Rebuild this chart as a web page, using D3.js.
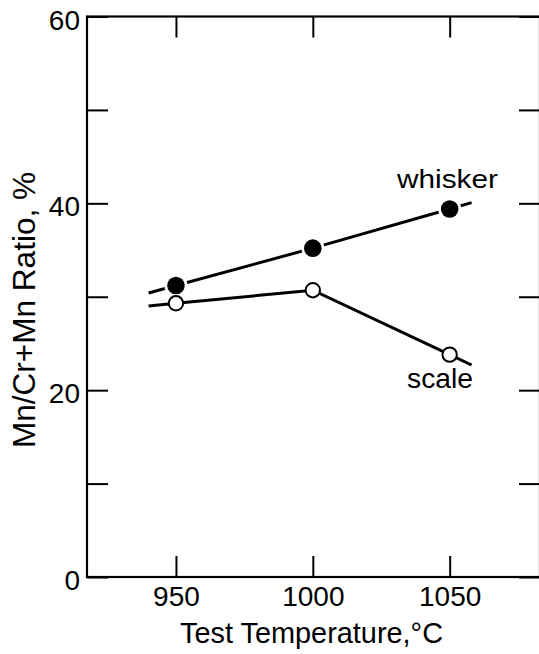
<!DOCTYPE html>
<html>
<head>
<meta charset="utf-8">
<script src="https://cdn.jsdelivr.net/npm/d3@7"></script>
<style>
  html, body { margin: 0; padding: 0; background: #fff; }
  svg { display: block; }
  text { font-family: "Liberation Sans", Arial, sans-serif; fill: #000; }
</style>
</head>
<body>
<svg id="chart" width="539" height="654"></svg>
<script>
// Test temperatures (°C) and measured Mn/(Cr+Mn) ratios (%)
const temperatures = [950, 1000, 1050];
const whiskerRatio = [31.2, 35.2, 39.4];
const scaleRatio   = [29.3, 30.7, 23.8];

// Axis ticks
const xTicks = [950, 1000, 1050];
const yTicks = [0, 10, 20, 30, 40, 50, 60];
const yTickLabels = [0, 20, 40, 60];

// Trend lines run a little past the outermost test temperatures
const trendRange = [940, 1058];

const svg = d3.select("#chart");
const W = 539, H = 654;
const plot = { left: 87, right: 540, top: 16.5, bottom: 577 };

const x = d3.scaleLinear().domain([917.5, 1083]).range([plot.left, plot.right]);
const y = d3.scaleLinear().domain([0, 60]).range([plot.bottom, plot.top]);

const tickLen = 21;

// Frame
svg.append("rect")
  .attr("x", plot.left).attr("y", plot.top)
  .attr("width", plot.right - plot.left).attr("height", plot.bottom - plot.top)
  .attr("fill", "none").attr("stroke", "#000").attr("stroke-width", 2.2);

// Inward ticks on all four sides
const bottomAxis = d3.axisBottom(x).tickValues(xTicks).tickSizeInner(-tickLen).tickSizeOuter(0).tickFormat(d3.format("d")).tickPadding(9);
const topAxis = d3.axisTop(x).tickValues(xTicks).tickSizeInner(-tickLen).tickSizeOuter(0).tickFormat("");
const leftAxis = d3.axisLeft(y).tickValues(yTicks).tickSizeInner(-tickLen).tickSizeOuter(0)
  .tickFormat(d => yTickLabels.includes(d) ? d : "").tickPadding(7);
const rightAxis = d3.axisRight(y).tickValues(yTicks).tickSizeInner(-tickLen).tickSizeOuter(0).tickFormat("");

function styleAxis(g) {
  g.select(".domain").remove();
  g.selectAll(".tick line").attr("stroke", "#000").attr("stroke-width", 2);
  g.selectAll(".tick text").attr("font-size", 28).attr("font-family", "Liberation Sans, Arial, sans-serif").attr("fill", "#000");
}

svg.append("g").attr("transform", `translate(0,${plot.bottom})`).call(bottomAxis).call(styleAxis)
  .selectAll(".tick text").attr("dy", "0.71em");
svg.append("g").attr("transform", `translate(0,${plot.top})`).call(topAxis).call(styleAxis);
svg.append("g").attr("transform", `translate(${plot.left},0)`).call(leftAxis).call(styleAxis)
  .selectAll(".tick text").attr("dy", "0.45em");
svg.append("g").attr("transform", `translate(${plot.right},0)`).call(rightAxis).call(styleAxis);

// Axis titles
svg.append("text")
  .attr("x", 180).attr("y", 643)
  .attr("font-size", 30)
  .attr("textLength", 263).attr("lengthAdjust", "spacingAndGlyphs")
  .text("Test Temperature,°C");

svg.append("text")
  .attr("transform", `translate(35,${(172 + 448) / 2}) rotate(-90)`)
  .attr("text-anchor", "middle")
  .attr("font-size", 31)
  .attr("textLength", 276).attr("lengthAdjust", "spacingAndGlyphs")
  .text("Mn/Cr+Mn Ratio, %");

// Series line extended linearly from its end segments out to trendRange
function extendedPoints(vals) {
  const n = temperatures.length;
  const s0 = (vals[1] - vals[0]) / (temperatures[1] - temperatures[0]);
  const s1 = (vals[n - 1] - vals[n - 2]) / (temperatures[n - 1] - temperatures[n - 2]);
  const pts = temperatures.map((t, i) => [t, vals[i]]);
  pts.unshift([trendRange[0], vals[0] + s0 * (trendRange[0] - temperatures[0])]);
  pts.push([trendRange[1], vals[n - 1] + s1 * (trendRange[1] - temperatures[n - 1])]);
  return pts;
}

const line = d3.line().x(d => x(d[0])).y(d => y(d[1]));

[whiskerRatio, scaleRatio].forEach(vals => {
  svg.append("path")
    .attr("d", line(extendedPoints(vals)))
    .attr("fill", "none").attr("stroke", "#000").attr("stroke-width", 3);
});

// Whisker: filled circles with a white rim that breaks the line
const wg = svg.append("g");
wg.selectAll("circle.rim").data(temperatures).join("circle")
  .attr("cx", d => x(d)).attr("cy", (d, i) => y(whiskerRatio[i]))
  .attr("r", 11.5).attr("fill", "#fff");
wg.selectAll("circle.dot").data(temperatures).join("circle")
  .attr("cx", d => x(d)).attr("cy", (d, i) => y(whiskerRatio[i]))
  .attr("r", 8.8).attr("fill", "#000");

// Scale: open circles
svg.append("g").selectAll("circle").data(temperatures).join("circle")
  .attr("cx", d => x(d)).attr("cy", (d, i) => y(scaleRatio[i]))
  .attr("r", 7.2).attr("fill", "#fff").attr("stroke", "#000").attr("stroke-width", 2);

// Series labels
svg.append("text").attr("x", 397).attr("y", 188)
  .attr("font-size", 26).attr("textLength", 101).attr("lengthAdjust", "spacingAndGlyphs")
  .text("whisker");
svg.append("text").attr("x", 407).attr("y", 388)
  .attr("font-size", 27).attr("textLength", 66).attr("lengthAdjust", "spacingAndGlyphs")
  .text("scale");
</script>
</body>
</html>
